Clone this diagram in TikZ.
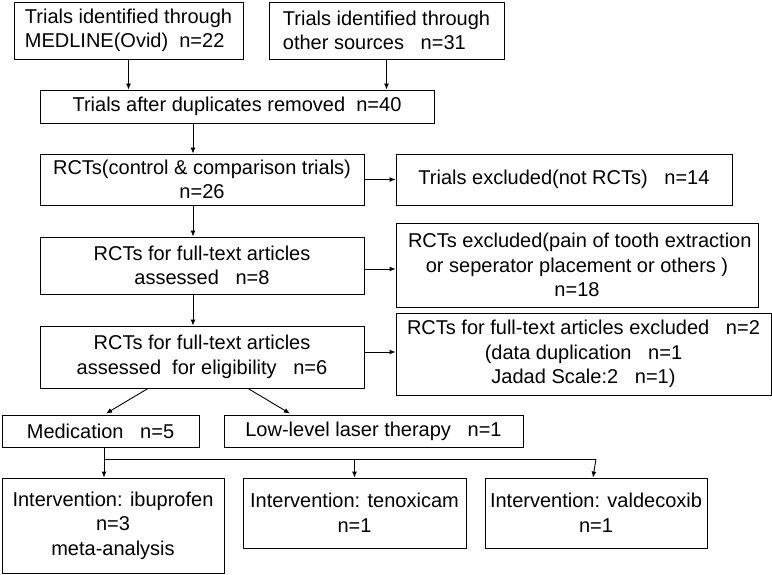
\documentclass[tikz,border=0pt]{standalone}
\usepackage{fontspec}
\setmainfont{Liberation Sans}
\usetikzlibrary{arrows.meta,calc}
\begin{document}
\begin{tikzpicture}[x=1pt,y=-1pt,
 box/.style={draw, line width=0.9pt, inner sep=0pt, align=center, font=\fontsize{20}{24.5}\selectfont},
 arr/.style={line width=0.9pt, -{Latex[length=6pt,width=5pt]}},
 ln/.style={line width=0.9pt}]
\fill[white] (0,0) rectangle (772,575);
\useasboundingbox (0,0) rectangle (772,575);
\node[box, align=left, minimum width=229pt, minimum height=57pt] (b1) at (128.5,30.5) {Trials identified through\\MEDLINE(Ovid)~~n=22};
\node[box, align=left, minimum width=235pt, minimum height=57pt] (b2) at (386.5,30.5) {Trials identified through\\other sources~~~n=31};
\node[box, minimum width=394pt, minimum height=33pt] (b3) at (237,106.5) {Trials after duplicates removed~~n=40};
\node[box, minimum width=324pt, minimum height=51pt] (b4) at (202,179.5) {RCTs(control \& comparison trials)\\n=26};
\node[box, minimum width=336pt, minimum height=51pt] (b5) at (564,179.5) {Trials excluded(not RCTs)~~~n=14};
\node[box, minimum width=324pt, minimum height=57pt] (b6) at (202,265.5) {RCTs for full-text articles\\assessed~~~n=8};
\node[box, minimum width=362pt, minimum height=84pt] (b7) at (577,265) {~RCTs excluded(pain of tooth extraction\\or seperator placement or others )\\n=18};
\node[box, minimum width=324pt, minimum height=62pt] (b8) at (202,357) {RCTs for full-text articles\\assessed~~for eligibility~~~n=6};
\node[box, minimum width=375pt, minimum height=82pt] (b9) at (583.5,354) {RCTs for full-text articles excluded~~~n=2\\(data duplication~~~n=1\\Jadad Scale:2~~~n=1)};
\node[box, minimum width=197pt, minimum height=32pt] (b10) at (100.5,431) {Medication~~~n=5};
\node[box, minimum width=299pt, minimum height=32pt] (b11) at (373.5,431) {Low-level laser therapy~~~n=1};
\node[box, minimum width=222pt, minimum height=95pt] (b12) at (113,525.5) {Intervention: ibuprofen\\n=3\\meta-analysis};
\node[box, minimum width=223pt, minimum height=70pt] (b13) at (354.5,513) {Intervention: tenoxicam\\n=1};
\node[box, minimum width=222pt, minimum height=70pt] (b14) at (596,513) {Intervention: valdecoxib\\n=1};
\coordinate (spine) at (193,0);
\coordinate (tree) at (104,459);
\draw[arr] (b1.south) -- (b1.south |- b3.north);
\draw[arr] (b2.south) -- (b2.south |- b3.north);
\draw[arr] (spine |- b3.south) -- (spine |- b4.north);
\draw[arr] (spine |- b4.south) -- (spine |- b6.north);
\draw[arr] (spine |- b6.south) -- (spine |- b8.north);
\draw[arr] (b4.east) -- (b4.east -| b5.west);
\draw[arr] ($(b6.east)+(0,3.5)$) -- ($(b6.east -| b7.west)+(0,3.5)$);
\draw[arr] ($(b8.east)+(0,-5)$) -- ($(b8.east -| b9.west)+(0,-5)$);
\draw[arr] ($(b8.south)+(-54,0)$) -- ($(b10.north)+(5.5,-1)$);
\draw[arr] ($(b8.south)+(46,0)$) -- ($(b11.north)+(-83.5,-1)$);
\draw[ln] (tree |- b10.south) -- (tree);
\draw[ln] (tree) -- (tree -| b14.north);
\draw[arr] (tree) -- (tree |- b12.north);
\draw[arr] (tree -| b13.north) -- (b13.north);
\draw[arr] (tree -| b14.north) -- ($(b14.north)+(-3,0)$);
\end{tikzpicture}
\end{document}
